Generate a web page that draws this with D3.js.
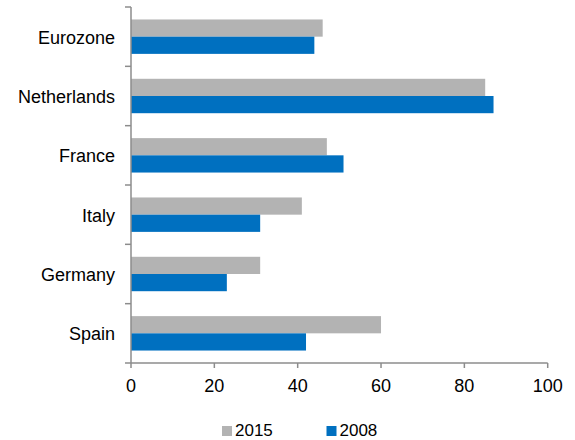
<!DOCTYPE html>
<html>
<head>
<meta charset="utf-8">
<script src="https://cdn.jsdelivr.net/npm/d3@7"></script>
<style>
  body { margin: 0; background: #fff; }
  svg { display: block; font-family: "Liberation Sans", Arial, sans-serif; }
</style>
</head>
<body>
<svg width="575" height="440"></svg>
<script>
// categories top to bottom
var countries = ["Eurozone", "Netherlands", "France", "Italy", "Germany", "Spain"];
var values2015 = [46, 85, 47, 41, 31, 60];
var values2008 = [44, 87, 51, 31, 23, 42];
var seriesNames = ["2015", "2008"];
var xTicks = [0, 20, 40, 60, 80, 100];

var colors = {"2015": "#b3b3b3", "2008": "#0070c0"};
var axisColor = "#8c8c8c";

var svg = d3.select("svg");

var margin = {top: 7, left: 131, right: 27, bottom: 77};
var width = 547.7 - margin.left,
    height = 363 - margin.top;

var rows = countries.map(function(c, i) {
  return {name: c, "2015": values2015[i], "2008": values2008[i]};
});

var x = d3.scaleLinear().domain([0, 100]).range([0, width]);
var y = d3.scaleBand().domain(countries).range([0, height])
    .paddingInner(0.42).paddingOuter(0.21);
var ySub = d3.scaleBand().domain(seriesNames).range([0, y.bandwidth()]);

var plot = svg.append("g")
    .attr("transform", "translate(" + margin.left + "," + margin.top + ")");

// bars
var groups = plot.selectAll(".row").data(rows).enter().append("g")
    .attr("class", "row")
    .attr("transform", function(d) { return "translate(0," + y(d.name) + ")"; });

groups.selectAll("rect")
    .data(function(d) { return seriesNames.map(function(s) { return {s: s, v: d[s]}; }); })
    .enter().append("rect")
    .attr("x", 0)
    .attr("y", function(d) { return ySub(d.s); })
    .attr("width", function(d) { return x(d.v); })
    .attr("height", ySub.bandwidth())
    .attr("fill", function(d) { return colors[d.s]; });

// y axis: line + outward ticks at band boundaries
var step = y.step();
var yAxisG = plot.append("g");
yAxisG.append("line")
    .attr("x1", 0).attr("x2", 0).attr("y1", 0).attr("y2", height)
    .attr("stroke", axisColor).attr("stroke-width", 1.5);
yAxisG.selectAll(".ytick").data(d3.range(countries.length + 1)).enter().append("line")
    .attr("x1", -6).attr("x2", 0)
    .attr("y1", function(i) { return i * step; })
    .attr("y2", function(i) { return i * step; })
    .attr("stroke", axisColor).attr("stroke-width", 1.5);

yAxisG.selectAll(".ylab").data(countries).enter().append("text")
    .attr("x", -16)
    .attr("y", function(d) { return y(d) + y.bandwidth() / 2 + 7; })
    .attr("text-anchor", "end")
    .attr("font-size", "18px")
    .attr("fill", "#000")
    .text(function(d) { return d; });

// x axis
var xAxisG = plot.append("g").attr("transform", "translate(0," + height + ")");
xAxisG.append("line")
    .attr("x1", 0).attr("x2", width)
    .attr("stroke", axisColor).attr("stroke-width", 1.5);
xAxisG.selectAll(".xtick").data(xTicks).enter().append("line")
    .attr("x1", function(d) { return x(d); })
    .attr("x2", function(d) { return x(d); })
    .attr("y1", 0).attr("y2", 5)
    .attr("stroke", axisColor).attr("stroke-width", 1.5);
xAxisG.selectAll(".xlab").data(xTicks).enter().append("text")
    .attr("x", function(d) { return x(d); })
    .attr("y", 29)
    .attr("text-anchor", "middle")
    .attr("font-size", "18px")
    .attr("fill", "#000")
    .text(function(d) { return d; });

// legend
var legendX = [222, 326.5];
var legend = svg.selectAll(".legend").data(seriesNames).enter().append("g")
    .attr("transform", function(d, i) { return "translate(" + legendX[i] + ",426)"; });
legend.append("rect")
    .attr("width", 10).attr("height", 10)
    .attr("fill", function(d) { return colors[d]; });
legend.append("text")
    .attr("x", 13).attr("y", 10)
    .attr("font-size", "17px")
    .attr("fill", "#000")
    .text(function(d) { return d; });
</script>
</body>
</html>
